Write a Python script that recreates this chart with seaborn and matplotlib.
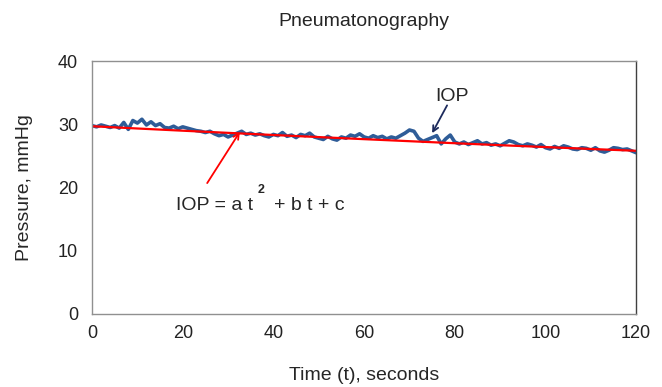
import numpy as np
import pandas as pd
import seaborn as sns
import matplotlib
matplotlib.use("Agg")
import matplotlib.pyplot as plt

time_s = list(range(0, 121))
iop = [29.8, 29.6, 29.9, 29.7, 29.5, 29.8, 29.4, 30.3, 29.2, 30.6,
       30.2, 30.8, 29.9, 30.4, 29.8, 30.1, 29.5, 29.4, 29.7, 29.3,
       29.6, 29.4, 29.2, 29.0, 28.9, 28.7, 28.9, 28.5, 28.2, 28.4,
       28.0, 28.3, 28.6, 28.9, 28.4, 28.6, 28.3, 28.5, 28.2, 28.0,
       28.4, 28.2, 28.7, 28.1, 28.3, 27.9, 28.4, 28.2, 28.6, 28.0,
       27.8, 27.6, 28.1, 27.7, 27.5, 28.0, 27.8, 28.3, 28.1, 28.5,
       28.0, 27.8, 28.2, 27.9, 28.1, 27.7, 28.0, 27.8, 28.2, 28.6,
       29.1, 28.9, 27.8, 27.3, 27.6, 27.9, 28.2, 26.9, 27.7, 28.3,
       27.2, 26.9, 27.2, 26.8, 27.1, 27.4, 26.9, 27.1, 26.7, 26.9,
       26.6, 27.0, 27.4, 27.2, 26.8, 26.6, 26.9, 26.7, 26.4, 26.8,
       26.3, 26.1, 26.5, 26.2, 26.6, 26.4, 26.1, 26.0, 26.3, 26.2,
       25.9, 26.3, 25.8, 25.6, 25.9, 26.3, 26.2, 26.0, 26.1, 25.8,
       25.5]

# quadratic fit line, read at every 10 s
fit_t = [0, 10, 20, 30, 40, 50, 60, 70, 80, 90, 100, 110, 120]
fit_iop = [29.70, 29.34, 28.99, 28.65, 28.31, 27.98, 27.65,
           27.33, 27.01, 26.70, 26.40, 26.10, 25.81]

x_ticks = [0, 20, 40, 60, 80, 100, 120]
y_ticks = [0, 10, 20, 30, 40]

df = pd.DataFrame({"t": time_s, "iop": iop})
fit = pd.DataFrame({"t": fit_t, "iop": fit_iop})

sns.set_style("white")
plt.rcParams["font.family"] = ["Liberation Sans", "DejaVu Sans"]

fig = plt.figure(figsize=(6.62, 3.87), dpi=100)
ax = fig.add_axes([0.139, 0.189, 0.822, 0.653])

sns.lineplot(data=df, x="t", y="iop", ax=ax, color="#2f5d98", linewidth=2.6)
sns.lineplot(data=fit, x="t", y="iop", ax=ax, color="#ff0000", linewidth=1.6)

ax.set_xlim(0, 120)
ax.set_ylim(0, 40)
ax.set_xticks(x_ticks)
ax.set_yticks(y_ticks)
ax.tick_params(axis="both", direction="out", length=5, width=0.8,
               color="#808080", labelsize=13, labelcolor="#222222")
ax.tick_params(axis="x", pad=3)
ax.tick_params(axis="y", pad=5)
for side in ["left", "bottom", "top"]:
    ax.spines[side].set_color("#909090")
    ax.spines[side].set_linewidth(1)
ax.spines["right"].set_color("#404040")
ax.spines["right"].set_linewidth(1)

ax.set_xlabel("Time (t), seconds", fontsize=14, labelpad=18)
ax.set_ylabel("Pressure, mmHg", fontsize=14, labelpad=18)
ax.set_title("Pneumatonography", fontsize=14, pad=25)

# annotations
ax.text(75.7, 33.1, "IOP", fontsize=14, ha="left", va="bottom")
ax.annotate("", xy=(75.0, 28.6), xytext=(78.3, 33.0),
            arrowprops=dict(arrowstyle="->", color="#1c2a5c", lw=1.3,
                            shrinkA=0, shrinkB=0))
ax.annotate("", xy=(32.6, 28.8), xytext=(25.4, 20.7),
            arrowprops=dict(arrowstyle="->", color="#ff0000", lw=1.3,
                            shrinkA=0, shrinkB=0))
ax.text(18.5, 16.5, "IOP = a t", fontsize=14, ha="left", va="baseline")
ax.text(36.6, 19.2, "2", fontsize=9, fontweight="bold", ha="left", va="baseline")
ax.text(40.2, 16.5, "+ b t + c", fontsize=14, ha="left", va="baseline")

fig.savefig("out.png", dpi=100)
